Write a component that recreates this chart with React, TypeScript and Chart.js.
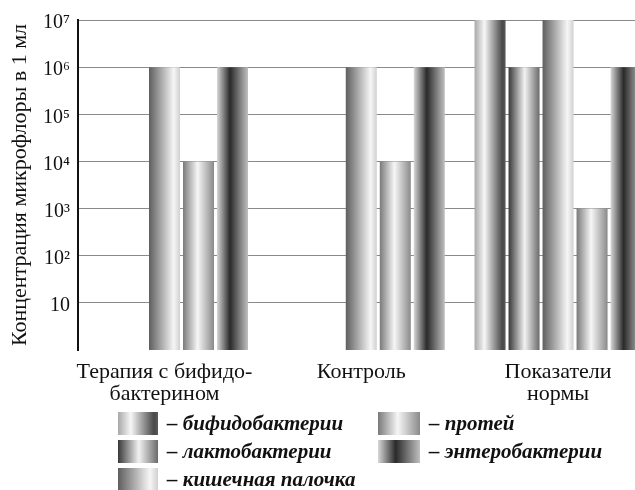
import React, { useEffect, useRef } from 'react';
import { Chart, registerables } from 'chart.js';

Chart.register(...registerables);

// ---- data ----
const categories: string[][] = [['Терапия с бифидо-', 'бактерином'], ['Контроль'], ['Показатели', 'нормы']];
const seriesNames: string[] = ['бифидобактерии', 'лактобактерии', 'кишечная палочка', 'протей', 'энтеробактерии'];
const bifido: (number | null)[] = [null, null, 1e7];
const lacto: (number | null)[] = [null, null, 1e6];
const ecoli: (number | null)[] = [1e6, 1e6, 1e7];
const proteus: (number | null)[] = [1e4, 1e4, 1e3];
const entero: (number | null)[] = [1e6, 1e6, 1e6];
const yTickValues: number[] = [1, 10, 1e2, 1e3, 1e4, 1e5, 1e6, 1e7];
const yTickLabels: string[] = ['', '10', '10²', '10³', '10⁴', '10⁵', '10⁶', '10⁷'];
const yTitle = 'Концентрация микрофлоры в 1 мл';

const seriesValues = [bifido, lacto, ecoli, proteus, entero];

// ---- styles ----
const FONT = '"Liberation Serif", "Times New Roman", serif';
const gradientStops: [number, string][][] = [
  [[0, '#a8a8a8'], [0.32, '#f6f6f6'], [0.9, '#484848'], [1, '#5a5a5a']],
  [[0, '#383838'], [0.52, '#f2f2f2'], [1, '#6a6a6a']],
  [[0, '#5e5e5e'], [0.8, '#f6f6f6'], [1, '#d0d0d0']],
  [[0, '#7a7a7a'], [0.47, '#f6f6f6'], [1, '#8a8a8a']],
  [[0, '#d8d8d8'], [0.42, '#2a2a2a'], [1, '#c0c0c0']],
];
const legendLayout = [
  { left: 118, top: 412, w: 40 },
  { left: 118, top: 440, w: 40 },
  { left: 118, top: 468, w: 40 },
  { left: 378, top: 412, w: 42 },
  { left: 378, top: 440, w: 42 },
];

const gradientPlugin = {
  id: 'barGradient',
  beforeDatasetsDraw(chart: any) {
    const ctx = chart.ctx as CanvasRenderingContext2D;
    chart.data.datasets.forEach((_ds: any, di: number) => {
      const meta = chart.getDatasetMeta(di);
      meta.data.forEach((el: any) => {
        const { x, width } = el.getProps(['x', 'width'], true);
        if (!isFinite(x) || !isFinite(width) || width <= 0) return;
        const g = ctx.createLinearGradient(x - width / 2, 0, x + width / 2, 0);
        gradientStops[di].forEach(([o, c]) => g.addColorStop(o, c));
        el.options = { ...el.options, backgroundColor: g, borderWidth: 0 };
      });
    });
  },
};

export default function App() {
  const ref = useRef<HTMLCanvasElement | null>(null);

  useEffect(() => {
    if (!ref.current) return;
    const xMin = -0.4396;
    const xMax = 2.391;
    const chart = new Chart(ref.current, {
      type: 'bar',
      data: {
        datasets: seriesNames.map((name, si) => ({
          label: name,
          data: categories.map((_, ci) => ({ x: ci, y: seriesValues[si][ci] })) as any,
          backgroundColor: '#888',
          borderWidth: 0,
          categoryPercentage: 0.864,
          barPercentage: 0.912,
        })),
      },
      options: {
        responsive: false,
        animation: false,
        layout: { padding: { top: 20, left: 0, right: 0, bottom: 0 } },
        plugins: { legend: { display: false }, tooltip: { enabled: false } },
        scales: {
          x: {
            type: 'linear',
            min: xMin,
            max: xMax,
            offset: false,
            grid: { display: false, drawTicks: false, offset: false },
            border: { display: false },
            afterBuildTicks: (s: any) => {
              s.ticks = categories.map((_, i) => ({ value: i }));
            },
            afterFit: (s: any) => {
              s.height = 140;
            },
            ticks: {
              autoSkip: false,
              maxRotation: 0,
              minRotation: 0,
              padding: 11,
              color: '#111',
              font: { family: FONT, size: 22, lineHeight: 1.0 },
              callback: (v: any) => categories[Math.round(Number(v))] ?? '',
            },
          },
          y: {
            type: 'logarithmic',
            min: 1,
            max: 1e7,
            afterBuildTicks: (s: any) => {
              s.ticks = yTickValues.map((v) => ({ value: v }));
            },
            afterFit: (s: any) => {
              s.width = 78;
            },
            grid: {
              drawTicks: false,
              color: (c: any) => (c.tick && c.tick.value === 1 ? 'rgba(0,0,0,0)' : '#8a8a8a'),
              lineWidth: 1,
            },
            border: { display: true, color: '#111', width: 2 },
            title: {
              display: true,
              text: yTitle,
              color: '#111',
              padding: { top: 7, bottom: 0 },
              font: { family: FONT, size: 22 },
            },
            ticks: {
              padding: 8,
              labelOffset: 3,
              color: '#111',
              font: { family: FONT, size: 20 },
              callback: (v: any) => {
                const i = yTickValues.indexOf(Number(v));
                return i >= 0 ? yTickLabels[i] : '';
              },
            },
          },
        },
      },
      plugins: [gradientPlugin],
    });
    return () => chart.destroy();
  }, []);

  return (
    <div style={{ position: 'absolute', left: 0, top: 0, width: 635, height: 490, background: '#fff', overflow: 'hidden' }}>
      <canvas ref={ref} width={635} height={490} style={{ position: 'absolute', left: 0, top: 0 }} />
      {seriesNames.map((name, i) => {
        const l = legendLayout[i];
        const stops = gradientStops[i].map(([o, c]) => `${c} ${o * 100}%`).join(', ');
        return (
          <div
            key={name}
            style={{ position: 'absolute', left: l.left, top: l.top, height: 23, display: 'flex', alignItems: 'center', whiteSpace: 'nowrap' }}
          >
            <div style={{ width: l.w, height: 23, background: `linear-gradient(to right, ${stops})` }} />
            <span style={{ marginLeft: 9, fontFamily: FONT, fontStyle: 'italic', fontWeight: 700, fontSize: 21, color: '#111', lineHeight: '23px' }}>
              – {name}
            </span>
          </div>
        );
      })}
    </div>
  );
}
